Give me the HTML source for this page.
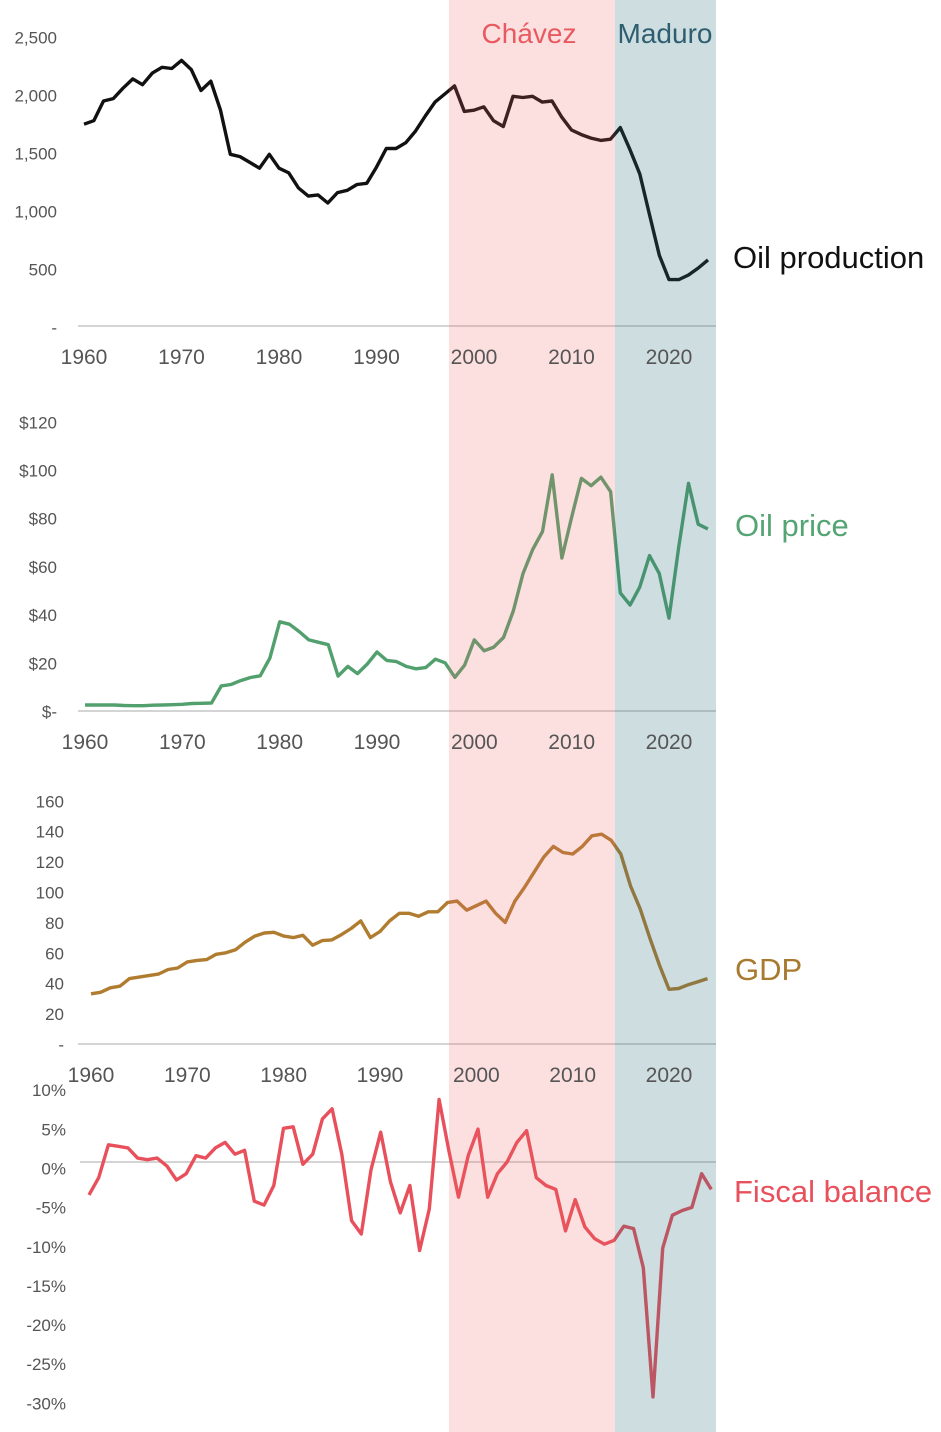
<!DOCTYPE html>
<html><head><meta charset="utf-8"><style>
html,body{margin:0;padding:0;background:#fff;}
svg{display:block;font-family:"Liberation Sans",Arial,sans-serif;}
.tick{font-size:17px;fill:#555;}
.yr{font-size:21px;fill:#555;}
</style></head><body>
<svg id="chart" width="941" height="1432" viewBox="0 0 941 1432">
<g id="under"></g>
<rect x="449" y="0" width="166" height="1432" fill="rgb(240,100,100)" fill-opacity="0.2"/>
<rect x="615" y="0" width="101" height="1432" fill="rgb(40,110,120)" fill-opacity="0.23"/>
<g id="over"></g>
<text x="529" y="43" text-anchor="middle" font-size="28" fill="#e85a60">Chávez</text>
<text x="665" y="43" text-anchor="middle" font-size="28" fill="#2d5f70">Maduro</text>
</svg>
<script>
const years = []; for (let y = 1960; y <= 2024; y++) years.push(y);
const oilProduction = [1740,1770,1940,1960,2050,2130,2080,2180,2230,2220,2290,2210,2030,2110,1860,1480,1460,1410,1360,1480,1360,1320,1190,1120,1130,1060,1150,1170,1220,1230,1370,1530,1530,1580,1680,1810,1930,2000,2070,1850,1860,1890,1770,1720,1980,1970,1980,1930,1940,1800,1690,1650,1620,1600,1610,1710,1520,1310,960,610,400,400,440,500,570];
const oilPrice = [2.5,2.5,2.5,2.5,2.3,2.2,2.2,2.4,2.5,2.6,2.8,3.1,3.2,3.3,10.4,11,12.6,13.9,14.6,22,37,36,33,29.5,28.5,27.5,14.5,18.5,15.5,19.5,24.5,21,20.5,18.5,17.5,18,21.5,20,14,19,29.5,25,26.5,30.5,41.5,57,67,74.5,98,63.5,80.5,96.5,93.5,97,91,49,44,51.5,64.5,57,38.5,68,94.5,77.5,75.5];
const gdp = [33,34,37,38,43,44,45,46,49,50,54,55,55.5,59,60,62,67,71,73,73.5,71,70,71.5,65,68,68.5,72,76,81,70,74,81,86,86,84,87,87,93,94,88,91,94,86,80,94,103,113,123,130,126,125,130,137,138,134,125,104,89,70,52,36,36.5,39,41,43];
const fiscal = [-4.2,-2,2.2,2,1.8,0.5,0.3,0.5,-0.5,-2.3,-1.5,0.8,0.5,1.8,2.5,1,1.5,-5,-5.5,-3,4.3,4.5,-0.3,1,5.5,6.8,1,-7.5,-9.2,-1,3.8,-2.5,-6.5,-3,-11.3,-6,8,1.5,-4.5,0.8,4.2,-4.5,-1.5,0,2.5,4,-2,-3,-3.5,-8.8,-4.8,-8.3,-9.8,-10.5,-10,-8.2,-8.5,-13.5,-30,-11,-6.8,-6.2,-5.8,-1.5,-3.5];
const prodTicks = [0,500,1000,1500,2000,2500];
const prodTickLabels = ["-","500","1,000","1,500","2,000","2,500"];
const priceTicks = [0,20,40,60,80,100,120];
const priceTickLabels = ["$-","$20","$40","$60","$80","$100","$120"];
const gdpTicks = [0,20,40,60,80,100,120,140,160];
const gdpTickLabels = ["-","20","40","60","80","100","120","140","160"];
const fiscalTicks = [10,5,0,-5,-10,-15,-20,-25,-30];
const fiscalTickLabels = ["10%","5%","0%","-5%","-10%","-15%","-20%","-25%","-30%"];
const yearTicks = [1960,1970,1980,1990,2000,2010,2020];

const NS = "http://www.w3.org/2000/svg";
const under = document.getElementById('under');
const over = document.getElementById('over');
function mk(tag, attrs, parent){const e=document.createElementNS(NS,tag);for(const k in attrs)e.setAttribute(k,attrs[k]);parent.appendChild(e);return e;}

const panels = [
 {key:'oil-production', vals:oilProduction, x0:84, x1:669, ticks:prodTicks, tl:prodTickLabels, zero:326, per:58/500, color:'#111', lab:'Oil production', labColor:'#111', labX:733, labY:268, labOff:3, yrY:364, axisX0:78, tickX:57},
 {key:'oil-price', vals:oilPrice, x0:85, x1:669, ticks:priceTicks, tl:priceTickLabels, zero:711, per:48.2/20, color:'#52a06e', lab:'Oil price', labColor:'#55a473', labX:735, labY:536, labOff:2, yrY:749, axisX0:78, tickX:57},
 {key:'gdp', vals:gdp, x0:91, x1:669, ticks:gdpTicks, tl:gdpTickLabels, zero:1044, per:15.2/10, color:'#b07c30', lab:'GDP', labColor:'#a87a30', labX:735, labY:980, labOff:2, yrY:1082, axisX0:78, tickX:64},
 {key:'fiscal-balance', vals:fiscal, x0:89, x1:653, ticks:fiscalTicks, tl:fiscalTickLabels, zero:1162, per:7.83, color:'#e8505b', lab:'Fiscal balance', labColor:'#e8505b', labX:734, labY:1202, labOff:8, yrY:null, axisX0:80, tickX:66}
];
panels.forEach(p=>{
  const yr0 = (p.key==='fiscal-balance') ? 2018 : 2020;
  const sx = y => p.x0 + (y-1960)*(p.x1-p.x0)/(yr0-1960);
  const sy = v => p.zero - v*p.per;
  const axis = mk('line',{x1:p.axisX0,x2:716,y1:p.zero,y2:p.zero,stroke:'#bbb','stroke-width':1.2},under);
  
  
  let d='';
  p.vals.forEach((v,i)=>{d+=(i?'L':'M')+sx(years[i]).toFixed(1)+','+sy(v).toFixed(1);});
  const path = mk('path',{d:d,fill:'none',stroke:p.color,'stroke-width':3.4,'stroke-linejoin':'round'},under);
  
  
  p.ticks.forEach((t,i)=>{
    const tx = mk('text',{x:p.tickX,y:sy(t)+p.labOff,'text-anchor':'end','dominant-baseline':'middle',class:'tick'},over);
    tx.textContent = p.tl[i];
    
    
  });
  if (p.yrY){
    const yx = y => p.x0 + (y-1960)*(p.x1-p.x0)/60;
    yearTicks.forEach(y=>{
      const tx = mk('text',{x:yx(y),y:p.yrY,'text-anchor':'middle',class:'yr'},over);
      tx.textContent = y;
      
      
    });
  }
  const lt = mk('text',{x:p.labX,y:p.labY,'font-size':31,fill:p.labColor},over);
  lt.textContent = p.lab;
  
  
});
</script>
</body></html>
